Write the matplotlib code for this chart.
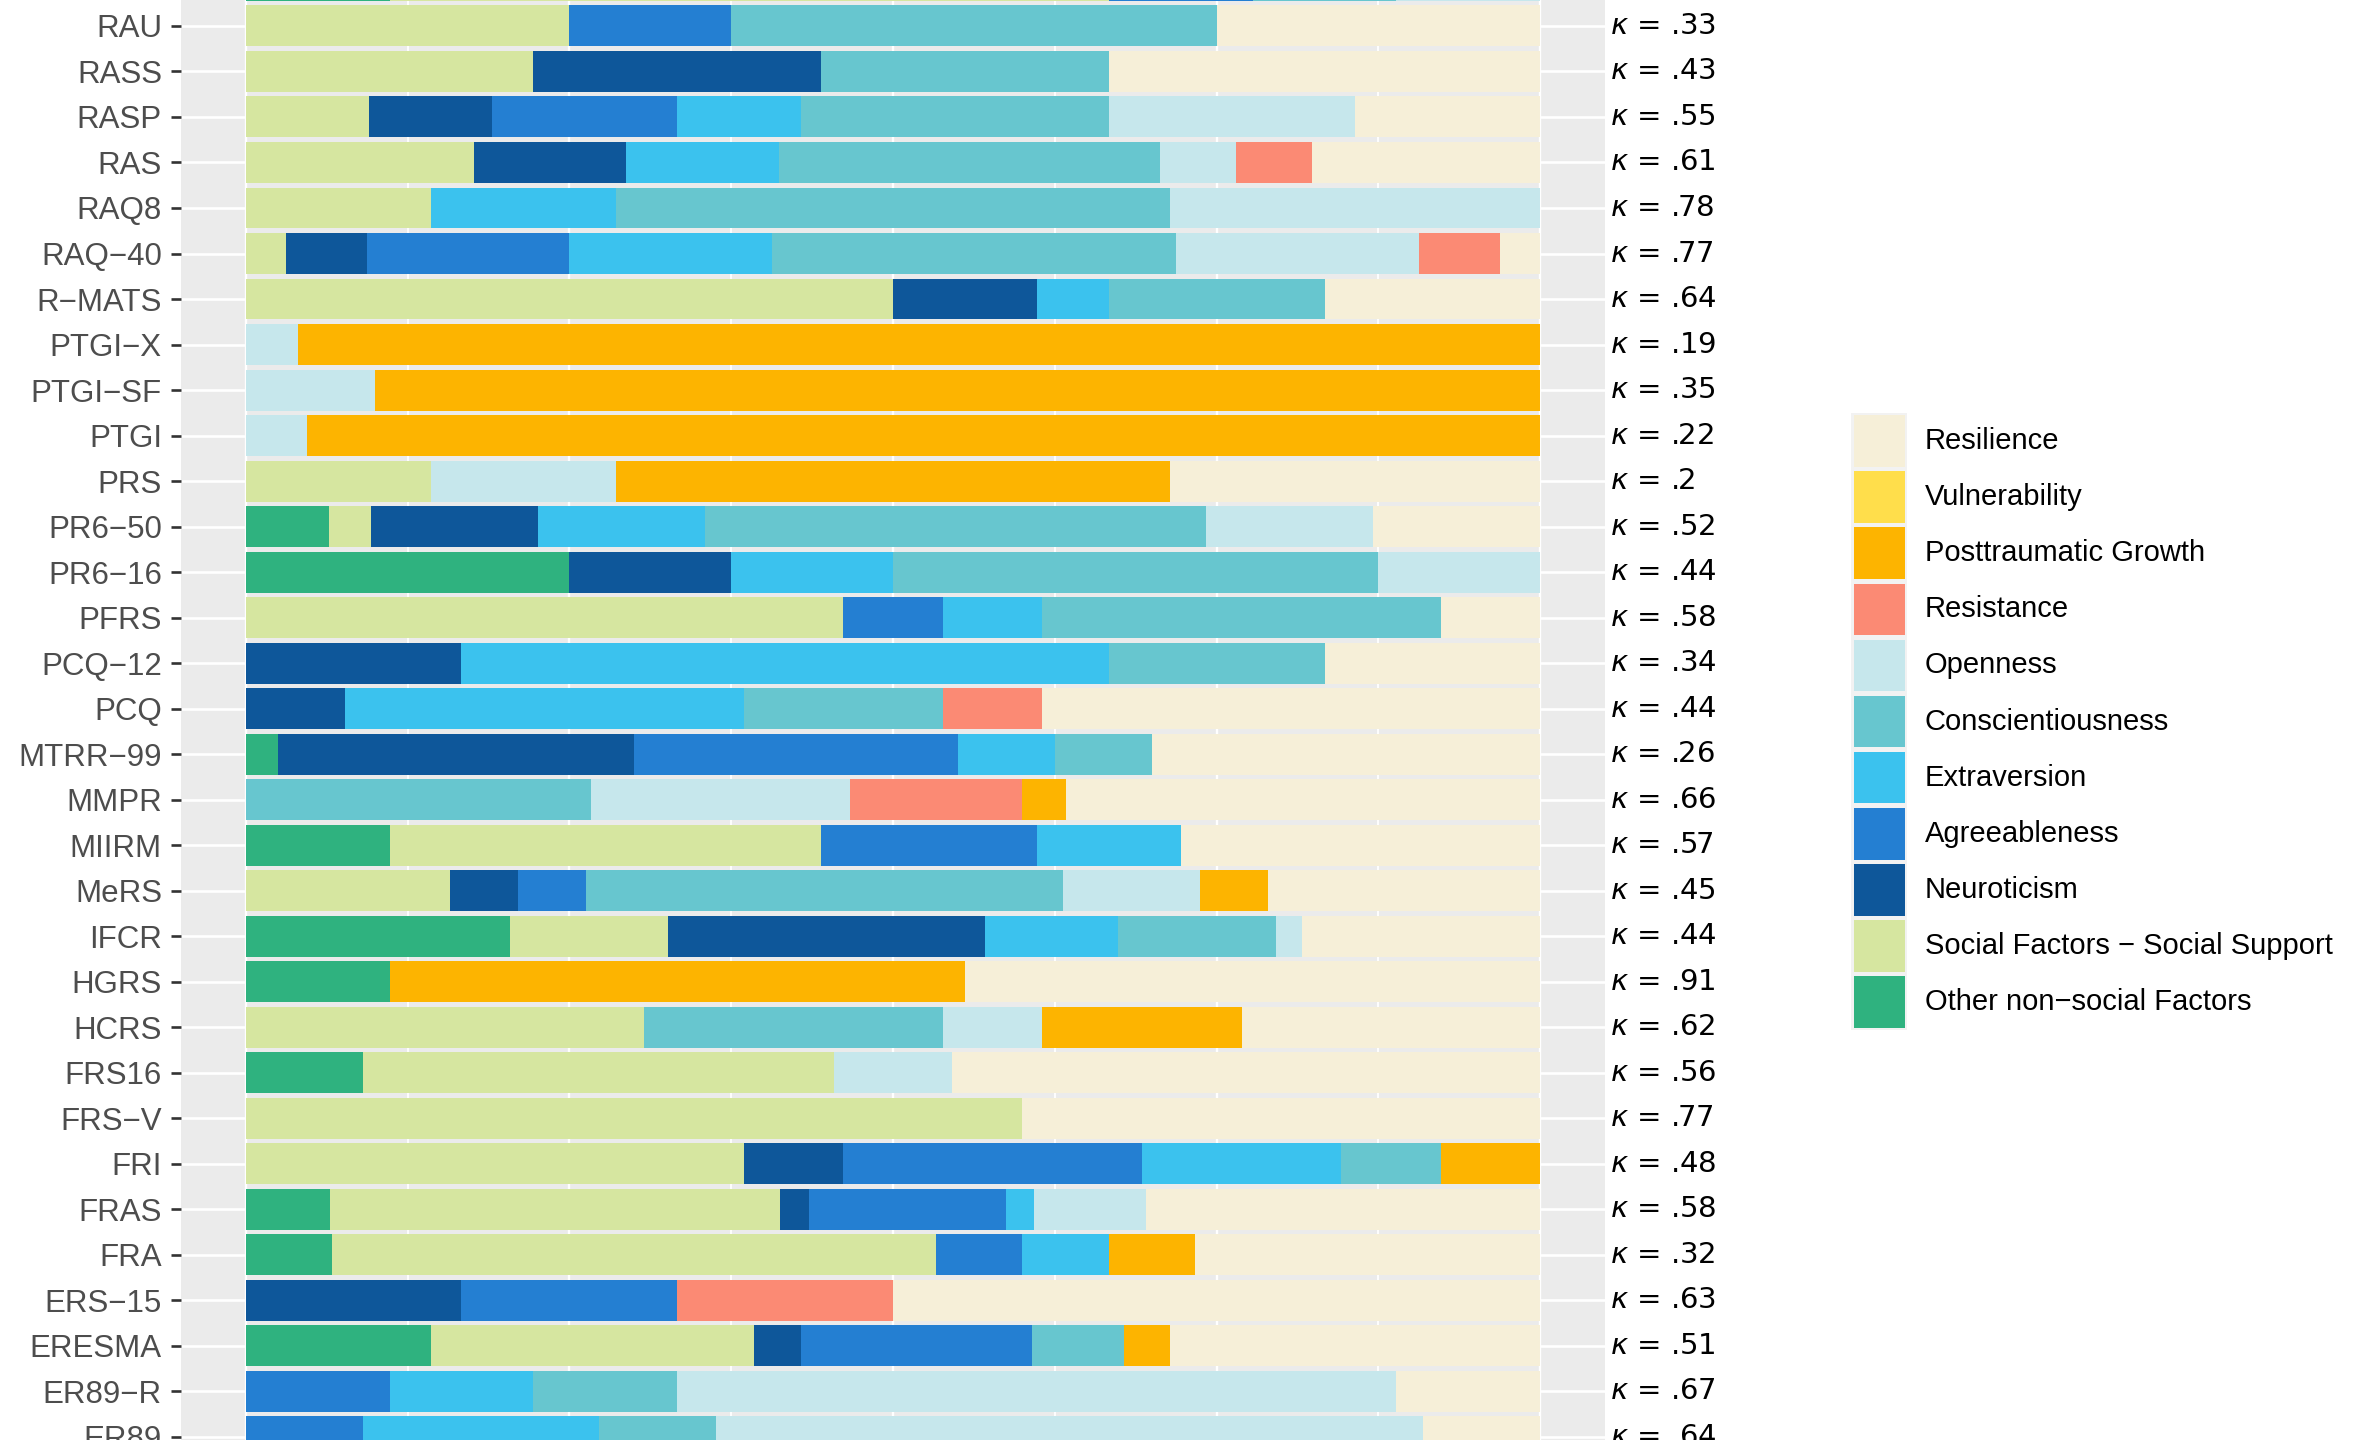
import numpy as np
import matplotlib.pyplot as plt
from matplotlib import font_manager
from matplotlib.patches import Rectangle
from matplotlib.transforms import blended_transform_factory

# scales, top to bottom (first one is cut off at the top edge)
scales = ['', 'RAU', 'RASS', 'RASP', 'RAS', 'RAQ8', 'RAQ\u221240', 'R\u2212MATS',
          'PTGI\u2212X', 'PTGI\u2212SF', 'PTGI', 'PRS', 'PR6\u221250', 'PR6\u221216',
          'PFRS', 'PCQ\u221212', 'PCQ', 'MTRR\u221299', 'MMPR', 'MIIRM', 'MeRS',
          'IFCR', 'HGRS', 'HCRS', 'FRS16', 'FRS\u2212V', 'FRI', 'FRAS', 'FRA',
          'ERS\u221215', 'ERESMA', 'ER89\u2212R', 'ER89']
kappa = ['', '.33', '.43', '.55', '.61', '.78', '.77', '.64', '.19', '.35', '.22',
         '.2', '.52', '.44', '.58', '.34', '.44', '.26', '.66', '.57', '.45', '.44',
         '.91', '.62', '.56', '.77', '.48', '.58', '.32', '.63', '.51', '.67', '.64']

# item counts per category (same row order as scales)
other_f   = [1,0,0,0,0,0,0,0,0,0,0,0,2,2,0,0,0,1,0,2,0,10,1,0,1,0,0,3,1,0,4,0,0]
social    = [5,2,2,2,3,1,1,9,0,0,0,1,1,0,6,0,0,0,0,6,3,6,0,4,4,3,5,16,7,0,7,0,0]
neuro     = [0,0,2,2,2,0,2,2,0,0,0,0,4,1,0,1,1,11,0,0,1,12,0,0,0,0,1,1,0,1,1,0,0]
agree     = [1,1,0,3,0,0,5,0,0,0,0,0,0,0,1,0,0,10,0,3,1,0,0,0,0,0,3,7,1,1,5,1,1]
extra     = [0,0,0,2,2,1,5,1,0,0,0,0,4,1,1,3,4,3,0,2,0,5,0,0,0,0,2,1,1,0,0,1,2]
consc     = [1,3,2,5,5,3,10,3,0,0,0,0,12,3,4,1,2,3,8,0,7,6,0,3,0,0,1,0,0,0,2,1,1]
openness  = [1,0,0,4,1,2,6,0,1,1,1,1,4,1,0,0,0,0,6,0,2,1,0,1,1,0,0,4,0,0,0,5,6]
resist    = [0,0,0,0,1,0,2,0,0,0,0,0,0,0,0,0,1,0,4,0,0,0,0,0,0,0,0,0,0,1,0,0,0]
ptg       = [0,0,0,0,0,0,0,0,24,9,20,3,0,0,0,0,0,0,1,0,1,0,4,2,0,0,1,0,1,0,1,0,0]
vulner    = [0]*33
resil     = [0,2,3,3,3,0,1,3,0,0,0,2,4,0,1,1,5,12,11,5,4,9,4,3,5,2,0,14,4,3,8,1,1]

categories = ['Other non\u2212social Factors', 'Social Factors \u2212 Social Support',
              'Neuroticism', 'Agreeableness', 'Extraversion', 'Conscientiousness',
              'Openness', 'Resistance', 'Posttraumatic Growth', 'Vulnerability',
              'Resilience']
colors = ['#2FB27F', '#D6E6A0', '#0E579A', '#247FD2', '#3BC2EE', '#67C6CF',
          '#C6E7EC', '#FB8A74', '#FDB400', '#FFDE4B', '#F6EFD8']

counts = np.array([other_f, social, neuro, agree, extra, consc, openness,
                   resist, ptg, vulner, resil], dtype=float)
props = counts / counts.sum(axis=0)

names = {f.name for f in font_manager.fontManager.ttflist}
sans = 'Liberation Sans' if 'Liberation Sans' in names else 'DejaVu Sans'

W, H = 2356, 1440
fig = plt.figure(figsize=(W / 100, H / 100), dpi=100)
ax = fig.add_axes([181 / W, 0, 1424 / W, 1])
ax.set_facecolor('#EBEBEB')
for s in ax.spines.values():
    s.set_visible(False)

y = np.arange(len(scales))
for xv in [0, 0.25, 0.5, 0.75, 1]:
    ax.axvline(xv, color='white', lw=1.7, zorder=0)
for xv in [0.125, 0.375, 0.625, 0.875]:
    ax.axvline(xv, color='white', lw=1.3, zorder=0)
for yv in y:
    ax.axhline(yv, color='white', lw=1.9, zorder=0)

left = np.zeros(len(scales))
for k in range(len(categories)):
    ax.barh(y, props[k], left=left, height=0.9, color=colors[k], zorder=2)
    left += props[k]

ax.set_yticks(y)
ax.set_yticklabels(scales, fontfamily=sans)
ax.set_xlim(-0.05, 1.05)
ax.set_ylim(32.07, 0.43)   # after set_yticks, which widens the limits
ax.tick_params(axis='y', length=7.2, width=1.9, color='#333333', pad=6.5,
               labelsize=22.5, labelcolor='#4D4D4D')
ax.tick_params(axis='x', bottom=False, labelbottom=False)

trans = blended_transform_factory(ax.transAxes, ax.transData)
for i in range(1, len(scales)):
    ax.text(1.0035, i, r'$\kappa$ = ' + kappa[i], transform=trans, ha='left',
            va='center', fontsize=21, color='black', clip_on=False)

# legend drawn in figure pixels
lax = fig.add_axes([0, 0, 1, 1])
lax.set_xlim(0, W)
lax.set_ylim(H, 0)
lax.axis('off')
lax.patch.set_alpha(0)
for k, cat in enumerate(categories[::-1]):
    c = 441 + k * 56.1
    lax.add_patch(Rectangle((1851, c - 28), 56, 56.1, facecolor='#F2F2F2',
                            edgecolor='none'))
    lax.add_patch(Rectangle((1853.5, c - 25.8), 51, 51.6,
                            facecolor=colors[::-1][k], edgecolor='none'))
    lax.text(1925, c, cat, fontsize=21, fontfamily=sans, va='center',
             ha='left', color='black')

fig.savefig('out.png', dpi=100)
